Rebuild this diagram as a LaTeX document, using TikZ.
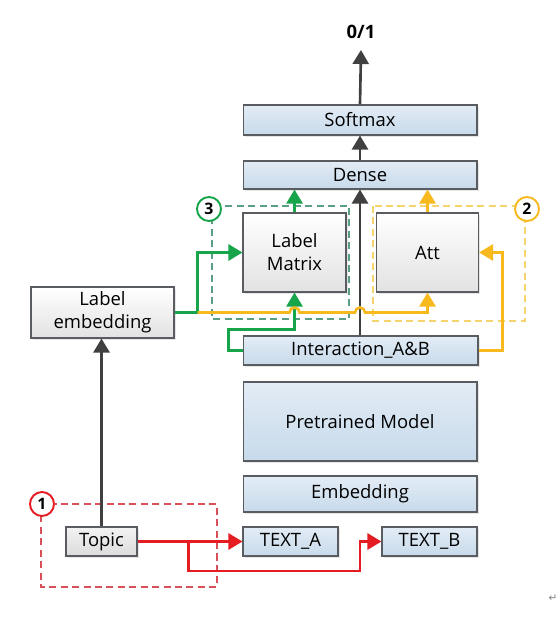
\documentclass[tikz,border=0pt]{standalone}
\usepackage{fontspec}
\setmainfont{Open Sans}
\newfontfamily\symfont{DejaVu Sans}
\usepackage{xcolor}
\usepackage{tikz}
\usetikzlibrary{arrows.meta, shadows}

\definecolor{bordegris}{HTML}{595D62}
\definecolor{azularriba}{HTML}{E3ECF6}
\definecolor{azulabajo}{HTML}{C7DAEA}
\definecolor{grisabajo}{HTML}{E2E2E2}
\definecolor{grisclaro}{HTML}{E6E6E6}
\definecolor{oscuro}{HTML}{404040}
\definecolor{verde}{HTML}{17A54B}
\definecolor{verdediscont}{HTML}{5A9E84}
\definecolor{amarillo}{HTML}{F8B91E}
\definecolor{amarillodiscont}{HTML}{F5D46C}
\definecolor{rojo}{HTML}{E51D22}
\definecolor{rojodiscont}{HTML}{D9505A}

\begin{document}
\begin{tikzpicture}[>={Triangle[length=0.28cm, width=0.32cm]}, x=0.02cm, y=-0.02cm,
    capa/.style={draw=bordegris, semithick, top color=azularriba, bottom color=azulabajo,
        inner sep=0pt, font=\fontsize{10.5}{12}\selectfont,
        drop shadow={opacity=0.2, shadow xshift=0.04cm, shadow yshift=-0.04cm}},
    caja/.style={draw=bordegris, semithick, top color=white, bottom color=grisabajo,
        inner sep=0pt, align=center, font=\fontsize{10.5}{13}\selectfont,
        drop shadow={opacity=0.2, shadow xshift=0.04cm, shadow yshift=-0.04cm}},
    numero/.style={circle, draw=#1, line width=1.1pt, fill=white, minimum size=0.48cm,
        inner sep=0pt, font=\bfseries\fontsize{9}{10}\selectfont},
    flecha/.style={->, line width=1.5pt, draw=#1},
    discont/.style={draw=#1, semithick, dash pattern=on 4pt off 2.5pt}]
                \useasboundingbox (0,0) rectangle (558,621);
                % Cajas dashed
                \draw[discont=verdediscont] (212,206) rectangle (349,319);
                \draw[discont=amarillodiscont] (373,206) rectangle (525,321);
                \draw[discont=rojodiscont] (41,504) rectangle (217,587);
                % Capas
                \node[capa, minimum width=4.68cm, minimum height=0.6cm] (softmax) at (360,120) {Softmax};
                \node[capa, minimum width=4.68cm, minimum height=0.56cm] (dense) at (360,175) {Dense};
                \node[caja, minimum width=2.06cm, minimum height=1.58cm] (labmat) at (294.5,252.5) {Label\\Matrix};
                \node[caja, minimum width=2.04cm, minimum height=1.58cm] (att) at (427.5,252.5) {Att};
                \node[capa, minimum width=4.7cm, minimum height=0.58cm] (inter) at (360.5,350.5) {Interaction\_A\&B};
                \node[capa, minimum width=4.68cm, minimum height=1.58cm] (pre) at (360,421.5) {Pretrained Model};
                \node[capa, minimum width=4.68cm, minimum height=0.72cm] (emb) at (360,494) {Embedding};
                \node[capa, minimum width=1.9cm, minimum height=0.58cm] (texta) at (290.5,541.5) {TEXT\_A};
                \node[capa, minimum width=1.9cm, minimum height=0.58cm] (textb) at (429.5,541.5) {TEXT\_B};
                \node[caja, minimum width=2.86cm, minimum height=1.02cm] (labemb) at (102.5,312.5) {Label\\embedding};
                \node[caja, top color=grisclaro!50!white, bottom color=grisclaro!90!gray,
                    minimum width=1.42cm, minimum height=0.58cm] (topic) at (101.5,541.5) {Topic};
                \node[font=\bfseries\fontsize{10.5}{12}\selectfont] (salida) at (361,32) {0/1};
                % Numeros
                \node[numero=verde] (n3) at (209,209) {3};
                \node[numero=amarillo] (n2) at (527,209) {2};
                \node[numero=rojo] (n1) at (42,504) {1};
                % Flechas oscuras
                \draw[flecha=oscuro] (softmax.north) -- (salida.south |- 0,50);
                \draw[flecha=oscuro] (dense.north) -- (softmax.south);
                \draw[flecha=oscuro] (inter.north -| dense.south) -- (dense.south);
                \draw[flecha=oscuro] (topic.north) -- (topic.north |- labemb.south);
                % Verde
                \draw[flecha=verde] (labmat.north) -- (labmat.north |- dense.south);
                \draw[flecha=verde] (labemb.east) -- ++(23,0) |- (labmat.west);
                \draw[flecha=verde] (inter.west) -- ++(-14,0) -- ++(0,-21) -| (labmat.south);
                % Amarillo
                \draw[flecha=amarillo] (att.north) -- (att.north |- dense.south);
                \draw[flecha=amarillo] (labemb.east) ++(23,0) -- (289.5,312.5) arc (180:360:5)
                    -- (355,312.5) arc (180:360:5) -| (att.south);
                \draw[flecha=amarillo] (inter.east) -- ++(24,0) |- (att.east);
                % Rojo
                \draw[flecha=rojo] (topic.east) -- (texta.west);
                \draw[flecha=rojo] (topic.east) ++(51,0) |- (360,571) |- (textb.west);
                % marca
                \node[text=gray, font=\symfont\fontsize{6}{6}\selectfont] (marca) at (553,598) {↵};
            \end{tikzpicture}
\end{document}
